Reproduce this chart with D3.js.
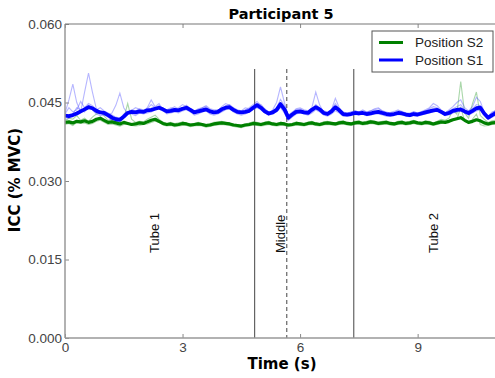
<!DOCTYPE html>
<html><head><meta charset="utf-8">
<script src="https://cdn.jsdelivr.net/npm/d3@7"></script>
<style>body{margin:0;background:#fff}svg{display:block}</style>
</head><body>
<svg id="c" width="495" height="378"></svg>
<script>
// ---- data ----
const timeStep = 0.1;
const tMax = 11;
const xTicks = [0, 3, 6, 9];
const yTicks = [0.000, 0.015, 0.030, 0.045, 0.060];
const phaseLines = [4.84, 7.37];      // solid separators (s)
const middleLine = 5.66;              // dashed separator (s)
const lineTop = 0.0514;
const phaseLabels = ["Tube 1", "Middle", "Tube 2"];
const phaseLabelX = [2.28, 5.5, 9.4];
const seriesNames = ["Position S2", "Position S1"];

const meanS1 = [.0425,.0424,.0426,.0429,.0433,.0437,.0441,.0439,.0434,.0431,.0430,
.0426,.0421,.0418,.0417,.0423,.0430,.0432,.0431,.0433,.0432,
.0435,.0436,.0438,.0440,.0437,.0433,.0434,.0436,.0435,.0438,
.0440,.0436,.0431,.0433,.0435,.0437,.0433,.0431,.0432,.0437,
.0440,.0441,.0436,.0432,.0431,.0432,.0434,.0440,.0445,.0440,
.0433,.0429,.0431,.0436,.0447,.0437,.0421,.0427,.0432,.0433,
.0431,.0430,.0436,.0441,.0437,.0430,.0428,.0433,.0441,.0435,
.0428,.0427,.0428,.0430,.0429,.0430,.0428,.0429,.0431,.0432,
.0430,.0428,.0427,.0428,.0430,.0429,.0427,.0426,.0428,.0427,
.0429,.0431,.0433,.0435,.0436,.0432,.0428,.0430,.0434,.0436,
.0437,.0433,.0430,.0434,.0439,.0440,.0429,.0421,.0426,.0430];

const meanS2 = [.0412,.0413,.0411,.0414,.0413,.0415,.0412,.0414,.0418,.0420,.0416,
.0412,.0413,.0411,.0409,.0412,.0410,.0408,.0409,.0411,.0410,
.0413,.0416,.0418,.0414,.0410,.0408,.0409,.0407,.0408,.0410,
.0409,.0407,.0408,.0409,.0408,.0406,.0407,.0409,.0410,.0411,
.0410,.0409,.0407,.0406,.0405,.0407,.0408,.0410,.0409,.0408,
.0410,.0411,.0409,.0408,.0410,.0409,.0407,.0408,.0410,.0409,
.0408,.0410,.0411,.0409,.0408,.0410,.0411,.0410,.0409,.0411,
.0412,.0410,.0409,.0411,.0412,.0410,.0411,.0413,.0412,.0410,
.0411,.0412,.0410,.0409,.0411,.0412,.0410,.0411,.0413,.0411,
.0410,.0412,.0411,.0409,.0411,.0413,.0412,.0414,.0417,.0419,
.0421,.0416,.0412,.0414,.0417,.0415,.0411,.0409,.0411,.0412];

const trialS1a = [.0430,.0455,.0485,.0450,.0432,.0470,.0506,.0470,.0438,.0430,.0428,
.0425,.0430,.0445,.0468,.0440,.0428,.0435,.0440,.0437,.0432,
.0440,.0455,.0442,.0448,.0436,.0430,.0438,.0442,.0436,.0440,
.0445,.0438,.0430,.0436,.0440,.0442,.0436,.0432,.0434,.0442,
.0448,.0445,.0438,.0434,.0432,.0436,.0440,.0446,.0452,.0444,
.0436,.0430,.0436,.0450,.0480,.0450,.0425,.0430,.0438,.0440,
.0436,.0434,.0440,.0470,.0445,.0432,.0430,.0436,.0458,.0440,
.0430,.0428,.0432,.0434,.0432,.0436,.0432,.0434,.0438,.0440,
.0434,.0430,.0431,.0433,.0436,.0432,.0430,.0428,.0432,.0430,
.0433,.0436,.0440,.0448,.0444,.0436,.0430,.0436,.0442,.0450,
.0455,.0440,.0434,.0442,.0460,.0452,.0432,.0422,.0430,.0436];

const trialS1b = [.0418,.0420,.0428,.0440,.0436,.0432,.0445,.0436,.0428,.0425,.0426,
.0422,.0415,.0412,.0418,.0428,.0433,.0428,.0425,.0430,.0428,
.0430,.0432,.0436,.0440,.0434,.0428,.0430,.0432,.0430,.0434,
.0436,.0432,.0426,.0428,.0432,.0434,.0428,.0426,.0428,.0432,
.0436,.0438,.0432,.0428,.0426,.0428,.0432,.0436,.0440,.0436,
.0430,.0426,.0428,.0432,.0440,.0430,.0416,.0422,.0428,.0430,
.0428,.0426,.0430,.0436,.0432,.0426,.0424,.0428,.0434,.0430,
.0424,.0424,.0425,.0427,.0426,.0428,.0425,.0426,.0428,.0428,
.0426,.0424,.0424,.0425,.0427,.0426,.0424,.0423,.0425,.0424,
.0426,.0428,.0430,.0432,.0434,.0430,.0425,.0426,.0430,.0432,
.0434,.0430,.0426,.0430,.0434,.0436,.0426,.0418,.0422,.0426];

const trialS1c = [.0428,.0440,.0432,.0436,.0452,.0440,.0448,.0444,.0436,.0440,.0434,
.0430,.0426,.0422,.0420,.0426,.0432,.0436,.0434,.0438,.0436,
.0438,.0446,.0440,.0444,.0438,.0436,.0440,.0438,.0440,.0446,
.0442,.0436,.0434,.0438,.0440,.0444,.0438,.0436,.0436,.0438,
.0444,.0446,.0440,.0436,.0434,.0440,.0438,.0442,.0448,.0446,
.0438,.0432,.0434,.0440,.0456,.0444,.0426,.0432,.0436,.0438,
.0434,.0432,.0438,.0446,.0440,.0434,.0432,.0436,.0448,.0438,
.0432,.0430,.0432,.0434,.0432,.0434,.0432,.0434,.0436,.0438,
.0434,.0432,.0430,.0431,.0434,.0433,.0430,.0430,.0432,.0430,
.0432,.0434,.0438,.0442,.0440,.0434,.0430,.0434,.0438,.0442,
.0446,.0436,.0432,.0438,.0446,.0444,.0432,.0424,.0432,.0434];

const trialS2a = [.0415,.0420,.0418,.0425,.0416,.0420,.0414,.0422,.0428,.0432,.0424,
.0416,.0418,.0414,.0412,.0420,.0448,.0418,.0412,.0414,.0413,
.0418,.0422,.0426,.0418,.0412,.0410,.0412,.0410,.0411,.0413,
.0411,.0409,.0410,.0412,.0410,.0408,.0410,.0412,.0413,.0414,
.0412,.0411,.0409,.0408,.0407,.0409,.0411,.0413,.0412,.0410,
.0412,.0414,.0411,.0410,.0412,.0411,.0409,.0410,.0413,.0411,
.0410,.0412,.0414,.0411,.0410,.0413,.0414,.0412,.0411,.0414,
.0415,.0412,.0411,.0414,.0415,.0412,.0414,.0416,.0414,.0412,
.0414,.0415,.0412,.0411,.0414,.0415,.0412,.0414,.0416,.0413,
.0412,.0415,.0414,.0411,.0414,.0418,.0416,.0420,.0435,.0428,
.0490,.0430,.0420,.0448,.0470,.0425,.0418,.0412,.0415,.0416];

const trialS2b = [.0408,.0410,.0406,.0412,.0410,.0411,.0408,.0410,.0414,.0416,.0412,
.0408,.0409,.0407,.0405,.0408,.0410,.0406,.0405,.0406,.0408,
.0409,.0412,.0414,.0412,.0407,.0405,.0406,.0404,.0405,.0406,
.0406,.0404,.0405,.0406,.0405,.0403,.0404,.0406,.0407,.0408,
.0407,.0406,.0404,.0403,.0402,.0404,.0405,.0407,.0406,.0405,
.0406,.0408,.0406,.0405,.0406,.0406,.0404,.0405,.0407,.0406,
.0405,.0407,.0408,.0406,.0405,.0407,.0408,.0407,.0406,.0408,
.0409,.0407,.0406,.0408,.0409,.0407,.0408,.0410,.0409,.0407,
.0408,.0409,.0407,.0406,.0408,.0409,.0407,.0408,.0410,.0408,
.0407,.0409,.0408,.0406,.0408,.0410,.0412,.0414,.0416,.0418,
.0440,.0415,.0410,.0418,.0428,.0408,.0405,.0406,.0408,.0409];

// ---- chart ----
const svg = d3.select("#c");
const M = {l: 65, r: 496, t: 24, b: 338};
const x = d3.scaleLinear().domain([0, tMax]).range([M.l, M.r]);
const y = d3.scaleLinear().domain([0, 0.060]).range([M.b, M.t]);
const sampleTime = i => i * timeStep;
const line = d3.line().x((d, i) => x(sampleTime(i))).y(d => y(d));

const plot = svg.append("g");
plot.append("defs").append("clipPath").attr("id", "clip")
  .append("rect").attr("x", M.l).attr("y", M.t).attr("width", M.r - M.l).attr("height", M.b - M.t);
const data = plot.append("g").attr("clip-path", "url(#clip)");

// phase separators
phaseLines.forEach(t => data.append("line")
  .attr("x1", x(t)).attr("x2", x(t)).attr("y1", y(lineTop)).attr("y2", y(0))
  .attr("stroke", "#555").attr("stroke-width", 1.1));
data.append("line").attr("x1", x(middleLine)).attr("x2", x(middleLine))
  .attr("y1", y(lineTop)).attr("y2", y(0))
  .attr("stroke", "#555").attr("stroke-width", 1.1).attr("stroke-dasharray", "4,3");

// trials
[trialS2a, trialS2b].forEach(s => data.append("path").datum(s).attr("d", line)
  .attr("fill", "none").attr("stroke", "#2a9a2a").attr("stroke-opacity", 0.4).attr("stroke-width", 1.1));
[trialS1a, trialS1b, trialS1c].forEach(s => data.append("path").datum(s).attr("d", line)
  .attr("fill", "none").attr("stroke", "#4040ff").attr("stroke-opacity", 0.38).attr("stroke-width", 1.1));

// means
data.append("path").datum(meanS2).attr("d", line).attr("fill", "none")
  .attr("stroke", "#008000").attr("stroke-width", 3.2).attr("stroke-linejoin", "round");
data.append("path").datum(meanS1).attr("d", line).attr("fill", "none")
  .attr("stroke", "#0000ff").attr("stroke-width", 3.8).attr("stroke-linejoin", "round");

// phase labels
phaseLabels.forEach((lab, i) => {
  const px = x(phaseLabelX[i]), py = 253;
  plot.append("text").attr("transform", `translate(${px},${py}) rotate(-90)`)
    .attr("font-family", "Liberation Sans, Arial, sans-serif").attr("font-size", 13)
    .attr("dy", "0.35em").attr("fill", "#111").text(lab);
});

// axes
const axStyle = g => {
  g.select(".domain").remove();
  g.selectAll(".tick line").attr("stroke", "#888");
  g.selectAll(".tick text").attr("fill", "#444")
    .attr("font-family", "Liberation Sans, Arial, sans-serif").attr("font-size", 13.5);
};
svg.append("g").attr("transform", `translate(0,${M.b})`)
  .call(d3.axisBottom(x).tickValues(xTicks).tickFormat(d3.format("d")).tickSizeInner(-4).tickSizeOuter(0).tickPadding(4))
  .call(axStyle);
svg.append("g").attr("transform", `translate(0,${M.t})`)
  .call(d3.axisTop(x).tickValues(xTicks).tickFormat("").tickSizeInner(-4).tickSizeOuter(0))
  .call(axStyle);
svg.append("g").attr("transform", `translate(${M.l},0)`)
  .call(d3.axisLeft(y).tickValues(yTicks).tickFormat(d3.format(".3f")).tickSizeInner(-4).tickSizeOuter(0).tickPadding(3))
  .call(axStyle);

// spines
svg.append("line").attr("x1", M.l).attr("x2", M.l).attr("y1", M.t).attr("y2", M.b).attr("stroke", "#999").attr("stroke-width", 1.5);
svg.append("line").attr("x1", M.l).attr("x2", M.r).attr("y1", M.b).attr("y2", M.b).attr("stroke", "#999").attr("stroke-width", 1.5);
svg.append("line").attr("x1", M.l).attr("x2", M.r).attr("y1", M.t).attr("y2", M.t).attr("stroke", "#777").attr("stroke-width", 1.2);

// titles
svg.append("text").attr("x", 281).attr("y", 19).attr("text-anchor", "middle")
  .attr("font-family", "DejaVu Sans, sans-serif").attr("font-weight", "bold").attr("font-size", 14.5)
  .text("Participant 5");
svg.append("text").attr("x", 282).attr("y", 369).attr("text-anchor", "middle")
  .attr("font-family", "DejaVu Sans, sans-serif").attr("font-weight", "bold").attr("font-size", 15)
  .text("Time (s)");
svg.append("text").attr("transform", "translate(20,180) rotate(-90)").attr("text-anchor", "middle")
  .attr("font-family", "DejaVu Sans, sans-serif").attr("font-weight", "bold").attr("font-size", 15)
  .text("ICC (% MVC)");

// legend
const lg = svg.append("g");
lg.append("rect").attr("x", 372).attr("y", 31).attr("width", 121).attr("height", 41)
  .attr("fill", "#fff").attr("stroke", "#555").attr("stroke-width", 1);
const legColors = ["#008000", "#0000ff"];
seriesNames.forEach((n, i) => {
  const ly = 42.5 + i * 17.5;
  lg.append("line").attr("x1", 379).attr("x2", 403).attr("y1", ly).attr("y2", ly)
    .attr("stroke", legColors[i]).attr("stroke-width", 3);
  lg.append("text").attr("x", 415).attr("y", ly).attr("dy", "0.35em")
    .attr("font-family", "Liberation Sans, Arial, sans-serif").attr("font-size", 13.5)
    .attr("fill", "#222").text(n);
});
</script>
</body></html>
